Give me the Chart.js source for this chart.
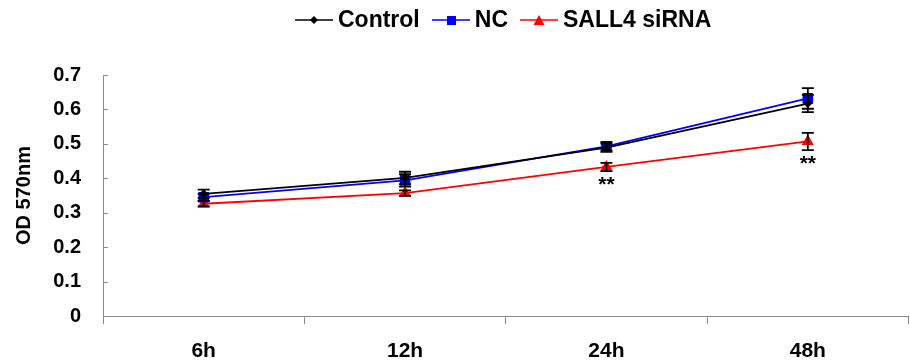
<!DOCTYPE html>
<html>
<head>
<meta charset="utf-8">
<script src="https://cdn.jsdelivr.net/npm/chart.js@4"></script>
<style>
  html, body { margin: 0; padding: 0; background: #fff; overflow: hidden; }
  #wrap { position: relative; width: 916px; height: 362px; }
  #legend {
    position: absolute; top: 6px; left: 295px;
    font: bold 23px "Liberation Sans", Arial, sans-serif; color: #000;
    display: flex; align-items: center; white-space: nowrap;
  }
  #legend .item { display: flex; align-items: center; margin-right: 12px; }
  #legend svg { margin-right: 5px; }
</style>
</head>
<body>
<div id="wrap">
  <canvas id="chart" width="916" height="362"></canvas>
  <div id="legend"></div>
</div>
<script>
const categories = ['6h', '12h', '24h', '48h'];
const control = [0.355, 0.401, 0.489, 0.617];
const controlErr = [0.012, 0.018, 0.012, 0.025];
const nc = [0.345, 0.394, 0.493, 0.632];
const ncErr = [0.01, 0.018, 0.012, 0.03];
const sall4 = [0.326, 0.357, 0.433, 0.507];
const sall4Err = [0.008, 0.008, 0.012, 0.025];
const significance = ['', '', '**', '**'];
const yTicks = [0, 0.1, 0.2, 0.3, 0.4, 0.5, 0.6, 0.7];

const FONT = '"Liberation Sans", Arial, sans-serif';

const series = [
  { label: 'Control', data: control, err: controlErr, color: '#000000', style: 'rectRot', radius: 4.5 },
  { label: 'NC', data: nc, err: ncErr, color: '#0000ff', style: 'rect', radius: 7.5 },
  { label: 'SALL4 siRNA', data: sall4, err: sall4Err, color: '#ff0000', style: 'triangle', radius: 7 },
];

// legend: line + marker + text
const legend = document.getElementById('legend');
series.forEach((s) => {
  const item = document.createElement('div');
  item.className = 'item';
  let marker = '';
  if (s.style === 'rectRot') marker = '<polygon points="19,3 23,7 19,11 15,7" fill="' + s.color + '"/>';
  if (s.style === 'rect') marker = '<rect x="15" y="3" width="9" height="9" fill="' + s.color + '"/>';
  if (s.style === 'triangle') marker = '<polygon points="19,2 24.5,12 13.5,12" fill="' + s.color + '"/>';
  item.innerHTML = '<svg width="38" height="14"><line x1="0" y1="7" x2="38" y2="7" stroke="' + s.color +
    '" stroke-width="1.5"/>' + marker + '</svg><span>' + s.label + '</span>';
  legend.appendChild(item);
});

const errorBars = {
  id: 'errorBars',
  afterDatasetsDraw(chart) {
    const { ctx, scales: { x, y } } = chart;
    ctx.save();
    // inward y tick marks
    ctx.strokeStyle = '#8c8c8c';
    ctx.lineWidth = 1;
    yTicks.forEach((v) => {
      const py = Math.round(y.getPixelForValue(v)) + 0.5;
      ctx.beginPath();
      ctx.moveTo(x.left, py);
      ctx.lineTo(x.left + 5, py);
      ctx.stroke();
    });
    ctx.strokeStyle = '#000';
    ctx.lineWidth = 1.8;
    series.forEach((s) => {
      s.data.forEach((v, i) => {
        const px = x.getPixelForValue(i);
        const top = y.getPixelForValue(v + s.err[i]);
        const bot = y.getPixelForValue(v - s.err[i]);
        ctx.beginPath();
        ctx.moveTo(px, top); ctx.lineTo(px, bot);
        ctx.moveTo(px - 6, top); ctx.lineTo(px + 6, top);
        ctx.moveTo(px - 6, bot); ctx.lineTo(px + 6, bot);
        ctx.stroke();
      });
    });
    ctx.fillStyle = '#000';
    ctx.font = 'bold 21px ' + FONT;
    ctx.textAlign = 'center';
    ctx.textBaseline = 'middle';
    significance.forEach((t, i) => {
      if (!t) return;
      const px = x.getPixelForValue(i);
      const py = y.getPixelForValue(sall4[i] - sall4Err[i]) + 14;
      ctx.fillText(t, px, py);
    });
    ctx.restore();
  },
};

new Chart(document.getElementById('chart').getContext('2d'), {
  type: 'line',
  data: {
    labels: categories,
    datasets: series.map((s) => ({
      label: s.label,
      data: s.data,
      borderColor: s.color,
      backgroundColor: s.color,
      borderWidth: 1.8,
      pointStyle: s.style,
      pointRadius: s.radius,
      pointBorderWidth: 0,
      tension: 0,
    })),
  },
  options: {
    responsive: false,
    animation: false,
    layout: { padding: { top: 75, right: 0, left: 0, bottom: 0 } },
    plugins: { legend: { display: false }, tooltip: { enabled: false } },
    scales: {
      x: {
        offset: true,
        grid: { offset: true, drawOnChartArea: false, tickLength: 8, color: '#8c8c8c' },
        border: { color: '#8c8c8c' },
        ticks: { color: '#000', font: { family: FONT, size: 21, weight: 'bold' }, padding: 15 },
        afterFit: (scale) => { scale.height = 46; },
      },
      y: {
        min: 0,
        max: 0.7,
        afterBuildTicks: (scale) => { scale.ticks = yTicks.map((v) => ({ value: v })); },
        grid: { drawOnChartArea: false, drawTicks: false },
        border: { color: '#8c8c8c' },
        ticks: {
          color: '#000',
          padding: 22,
          font: { family: FONT, size: 20, weight: 'bold' },
          callback: (v) => String(v),
        },
        title: {
          display: true,
          text: 'OD 570nm',
          color: '#000',
          font: { family: FONT, size: 20, weight: 'bold' },
          padding: { top: 12, bottom: 0 },
        },
        afterFit: (scale) => { scale.width = 103; },
      },
    },
  },
  plugins: [errorBars],
});
</script>
</body>
</html>
